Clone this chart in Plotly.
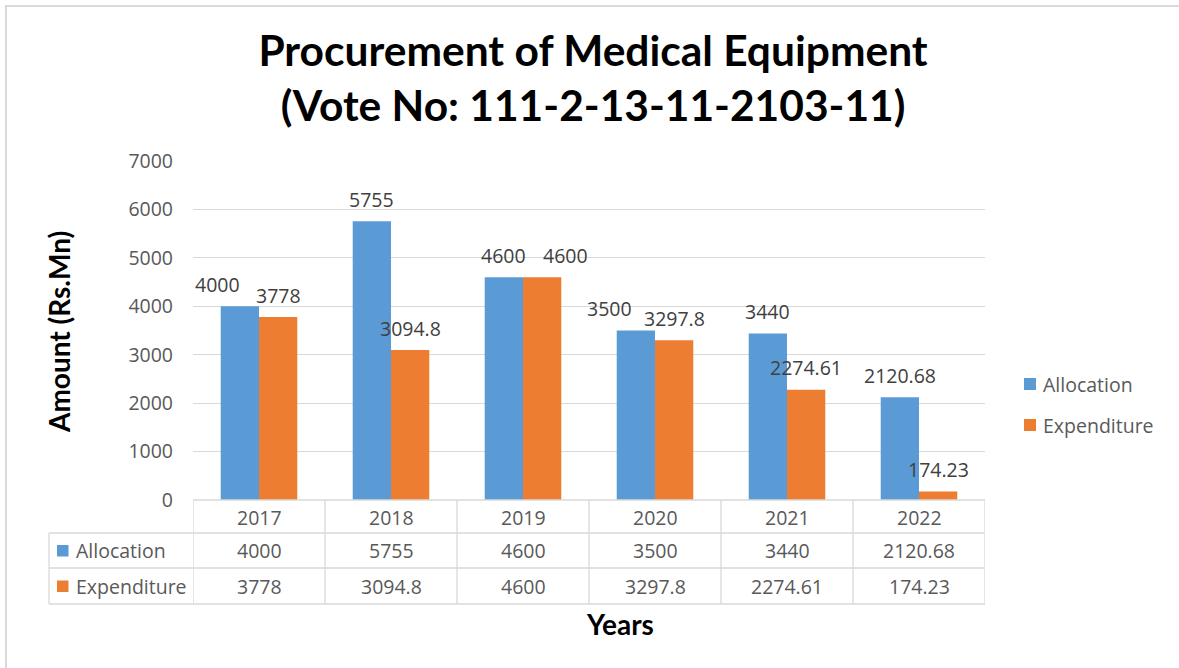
import plotly.graph_objects as go

# ---- data -------------------------------------------------------------
years = ["2017", "2018", "2019", "2020", "2021", "2022"]
allocation = [4000, 5755, 4600, 3500, 3440, 2120.68]
expenditure = [3778, 3094.8, 4600, 3297.8, 2274.61, 174.23]
allocation_text = ["4000", "5755", "4600", "3500", "3440", "2120.68"]
expenditure_text = ["3778", "3094.8", "4600", "3297.8", "2274.61", "174.23"]

series_names = ["Allocation", "Expenditure"]
series_colors = ["#5B9BD5", "#ED7D31"]

# ---- page geometry (pixels) -------------------------------------------
W, H = 1179, 668
L, R, T, B = 193, 985, 161, 500          # plot area edges
PW, PH = R - L, B - T


def px(x):
    """pixel column -> paper x"""
    return (x - L) / PW


def py(y):
    """pixel row -> paper y"""
    return (B - y) / PH


BODY = "Open Sans, Segoe UI, sans-serif"
HEAD = "Lato, Calibri, sans-serif"
FS = 19.5
GRID = "#D9D9D9"
TXT = "#595959"
LBL = "#404040"

fig = go.Figure()
for name, vals, col in zip(series_names, [allocation, expenditure], series_colors):
    fig.add_trace(go.Bar(x=years, y=vals, name=name, marker=dict(color=col, line=dict(width=0)),
                         showlegend=False, hoverinfo="x+y+name"))

annotations = []
shapes = []

# value labels above the bars (a few nudged sideways to avoid overlaps)
bar_half = PW / len(years) * (1 - 0.42) / 4
alloc_nudge = [-22, 0, 0, -26, 0, 0]
exp_nudge = [0, 0, 23, 0, 0, 0]
for i, yr in enumerate(years):
    for vals, texts, sign, nudge in [(allocation, allocation_text, -1, alloc_nudge),
                                     (expenditure, expenditure_text, 1, exp_nudge)]:
        annotations.append(dict(x=i, y=vals[i], xref="x", yref="y", text=texts[i],
                                showarrow=False, xshift=sign * bar_half + nudge[i], yshift=22,
                                xanchor="center", yanchor="middle",
                                font=dict(family=BODY, size=FS, color=LBL)))

# ---- data table under the axis ----------------------------------------
row_lines = [B, 533, 568, 604]
row_mid = [517, 550.5, 586]
left_edge = 49

# horizontal rules
shapes.append(dict(type="line", xref="paper", yref="paper", x0=0, x1=1, y0=py(row_lines[0]),
                   y1=py(row_lines[0]), line=dict(color=GRID, width=1.3)))
for yy in row_lines[1:]:
    shapes.append(dict(type="line", xref="paper", yref="paper", x0=px(left_edge), x1=1,
                       y0=py(yy), y1=py(yy), line=dict(color=GRID, width=1.3)))
# vertical rules at category boundaries
for k in range(len(years) + 1):
    shapes.append(dict(type="line", xref="x", yref="paper", x0=k - 0.5, x1=k - 0.5,
                       y0=py(row_lines[0]), y1=py(row_lines[-1]), line=dict(color=GRID, width=1.3)))
shapes.append(dict(type="line", xref="paper", yref="paper", x0=px(left_edge), x1=px(left_edge),
                   y0=py(row_lines[1]), y1=py(row_lines[-1]), line=dict(color=GRID, width=1.3)))

# header row of years
for i, yr in enumerate(years):
    annotations.append(dict(x=i, y=py(row_mid[0]), xref="x", yref="paper", text=yr,
                            showarrow=False, xanchor="center", yanchor="middle",
                            font=dict(family=BODY, size=FS, color=TXT)))
# value rows
for r, (name, texts, col) in enumerate(zip(series_names, [allocation_text, expenditure_text],
                                           series_colors)):
    ymid = row_mid[r + 1]
    for i, t in enumerate(texts):
        annotations.append(dict(x=i, y=py(ymid), xref="x", yref="paper", text=t,
                                showarrow=False, xanchor="center", yanchor="middle",
                                font=dict(family=BODY, size=FS, color=TXT)))
    shapes.append(dict(type="rect", xref="paper", yref="paper", x0=px(57), x1=px(68.5),
                       y0=py(ymid + 6), y1=py(ymid - 5.5), fillcolor=col, line=dict(width=0)))
    annotations.append(dict(x=px(74), y=py(ymid), xref="paper", yref="paper", text=name,
                            showarrow=False, xanchor="left", yanchor="middle",
                            font=dict(family=BODY, size=FS, color=TXT)))

# ---- legend on the right ----------------------------------------------
for name, col, ymid in zip(series_names, series_colors, [384, 425]):
    shapes.append(dict(type="rect", xref="paper", yref="paper", x0=px(1024), x1=px(1036),
                       y0=py(ymid + 6), y1=py(ymid - 6), fillcolor=col, line=dict(width=0)))
    annotations.append(dict(x=px(1041), y=py(ymid), xref="paper", yref="paper", text=name,
                            showarrow=False, xanchor="left", yanchor="middle",
                            font=dict(family=BODY, size=FS, color=TXT)))

# ---- axis titles --------------------------------------------------------
annotations.append(dict(x=px(59), y=py(332), xref="paper", yref="paper", text="<b>Amount (Rs.Mn)</b>",
                        textangle=-90, showarrow=False, xanchor="center", yanchor="middle",
                        font=dict(family=HEAD, size=28, color="#000000")))
annotations.append(dict(x=px(620), y=py(624), xref="paper", yref="paper", text="<b>Years</b>",
                        showarrow=False, xanchor="center", yanchor="middle",
                        font=dict(family=HEAD, size=28, color="#000000")))

# chart frame
shapes.append(dict(type="rect", xref="paper", yref="paper", x0=px(6), x1=px(W + 20),
                   y0=py(H + 20), y1=py(6), line=dict(color=GRID, width=2), fillcolor="rgba(0,0,0,0)",
                   layer="below"))

fig.update_layout(
    width=W, height=H,
    margin=dict(l=L, r=W - R, t=T, b=H - B),
    paper_bgcolor="white", plot_bgcolor="white",
    barmode="group", bargap=0.42, bargroupgap=0,
    title=dict(text="<b>Procurement of Medical Equipment<br>(Vote No: 111-2-13-11-2103-11)</b>",
               xref="container", yref="container", x=0.503, y=1 - 66 / H,
               xanchor="center", yanchor="middle",
               font=dict(family=HEAD, size=42.5, color="#000000")),
    xaxis=dict(type="category", showticklabels=False, showgrid=False, zeroline=False,
               showline=False, range=[-0.5, len(years) - 0.5], fixedrange=True),
    yaxis=dict(range=[0, 7000], dtick=1000, showgrid=True, gridcolor=GRID, gridwidth=1.3,
               zeroline=False, showline=False, ticks="", ticklabelstandoff=19,
               tickfont=dict(family=BODY, size=FS, color=TXT), fixedrange=True),
    annotations=annotations,
    shapes=shapes,
)

fig.write_html("out.html")
